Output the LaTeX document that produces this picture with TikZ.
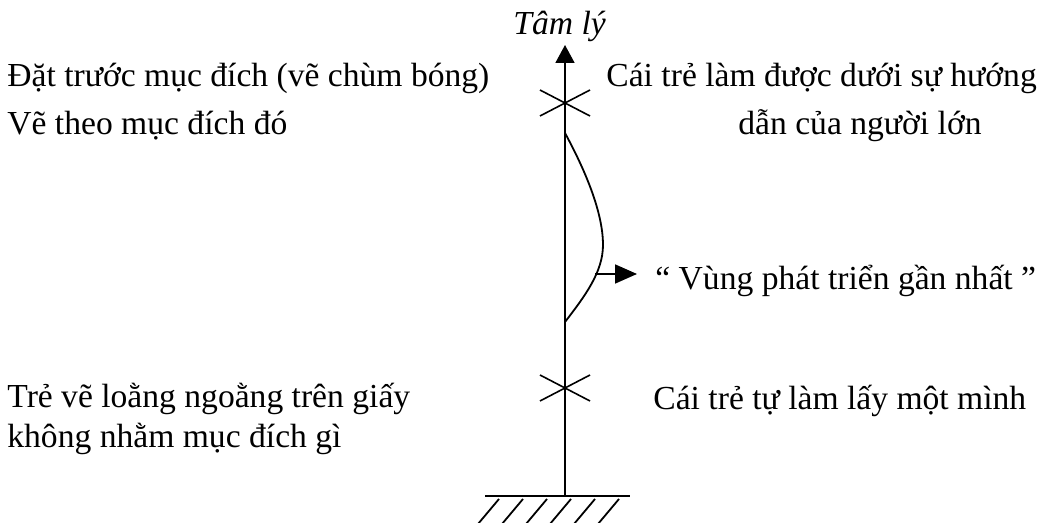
\documentclass[tikz,border=0pt]{standalone}
\usepackage{fontspec}
\setmainfont{Liberation Serif}
\usepackage{tikz}
\usetikzlibrary{arrows.meta,positioning,calc}

\begin{document}
\begin{tikzpicture}[
  x=0.5pt, y=-0.5pt,
  lbl/.style={inner sep=0pt, anchor=base west, font=\fontsize{16.8}{20}\selectfont},
  axis/.style={line width=0.9pt},
  crossline/.style={line width=0.8pt},
  >={Triangle[length=9pt, width=9.5pt]}
]
\useasboundingbox (0,0) rectangle (1046,523);

% axis and its ground
\coordinate (ground) at (565,496);
\coordinate (top)    at (565,45);
\coordinate (high)   at (565,103);
\coordinate (low)    at (565,388);
\coordinate (zbeg)   at (565,133);
\coordinate (zend)   at (565,322);
\coordinate (zout)   at (595,274);

\draw[axis,->] (ground) -- (top);
\node[lbl, font=\fontsize{16.8}{20}\selectfont\itshape] (psy) at (513,35) {Tâm lý};

\draw[line width=1.1pt] ($(ground)+(-80,0)$) -- ($(ground)+(65,0)$);
\foreach \i in {0,...,5}
  \draw[line width=0.9pt] ($(ground)+(-66+24*\i,3)$) -- ++(-21,25);

% crosses
\foreach \c in {high,low} {
  \draw[crossline] ($(\c)+(-25,-13)$) -- ($(\c)+(25,13)$);
  \draw[crossline] ($(\c)+(-25,13)$) -- ($(\c)+(25,-13)$);
}

% zone of proximal development
\draw[axis] (zbeg) .. controls (585,170) and (603,212) .. (603,245)
                   .. controls (603,272) and (585,296) .. (zend);
\draw[axis,-{Triangle[length=11pt, width=9.5pt]}] (zout) -- ++(42,0) coordinate (ztip);

% labels
\node[lbl] (goal1)  at (7,87)    {Đặt trước mục đích (vẽ chùm bóng)};
\node[lbl] (goal2)  at (7,135)   {Vẽ theo mục đích đó};
\node[lbl] (help1)  at (606,87)  {Cái trẻ làm được dưới sự hướng};
\node[lbl] (help2)  at (738,135) {dẫn của người lớn};
\node[lbl] (zone)   at (655,290) {“ Vùng phát triển gần nhất ”};
\node[lbl] (scrib1) at (7,408)   {Trẻ vẽ loằng ngoằng trên giấy};
\node[lbl] (scrib2) at (7,448)   {không nhằm mục đích gì};
\node[lbl] (alone)  at (653,410) {Cái trẻ tự làm lấy một mình};
\end{tikzpicture}
\end{document}
